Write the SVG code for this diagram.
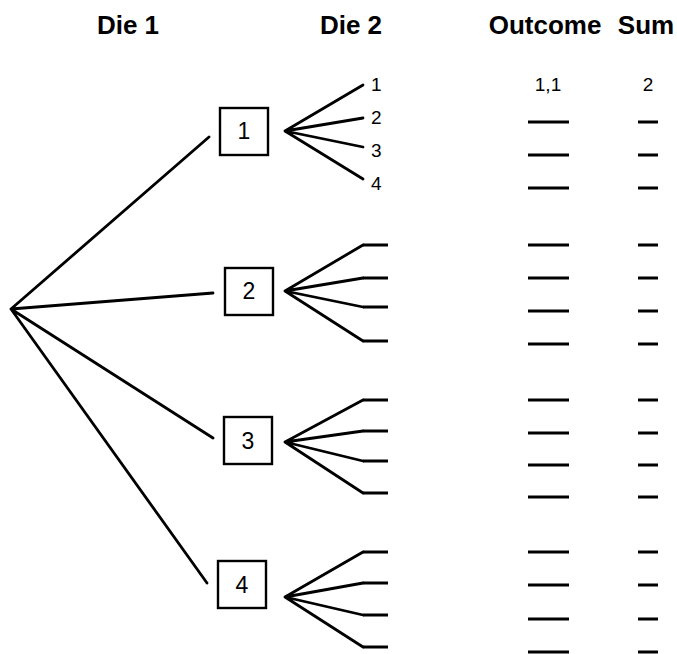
<svg xmlns="http://www.w3.org/2000/svg" width="677" height="654" viewBox="0 0 677 654">
<style>
.hdr{font-family:"Liberation Sans",Arial,sans-serif;font-weight:bold;font-size:26px;fill:#000}
.box{fill:#fff;stroke:#000;stroke-width:2.4}
.num{font-family:"Liberation Sans",Arial,sans-serif;font-size:23px;fill:#000;text-anchor:middle}
.lbl{font-family:"Liberation Sans",Arial,sans-serif;font-size:19px;fill:#000}
.ln{stroke:#000;stroke-width:2.8;fill:none;stroke-linecap:round}
.bl{stroke:#000;stroke-width:2.8;fill:none}
</style>
<rect width="677" height="654" fill="#fff"/>
<g id="headers">
<text class="hdr" x="128" y="34" text-anchor="middle">Die 1</text>
<text class="hdr" x="351" y="34" text-anchor="middle">Die 2</text>
<text class="hdr" x="545" y="34" text-anchor="middle">Outcome</text>
<text class="hdr" x="646" y="34" text-anchor="middle">Sum</text>
</g>
<g id="connectors">
<path class="ln" d="M11 309 L209 137 M11 309 L213 293 M11 309 L213 438 M11 309 L207 583"/>
<path class="ln" d="M285 131 L363 85 M285 131 L363 118 M285 131 L363 147 M285 131 L363 179"/>
<path class="ln" d="M285 291 L363 245 M285 291 L363 278 M285 291 L363 307 M285 291 L363 341"/>
<path class="ln" d="M285 442 L363 400 M285 442 L363 431 M285 442 L363 461 M285 442 L363 493"/>
<path class="ln" d="M285 597 L363 552 M285 597 L363 583 M285 597 L363 615 M285 597 L363 647"/>
</g>
<g id="die2-blanks">
<path class="bl" d="M363 245 H388 M363 278 H388 M363 307 H388 M363 341 H388"/>
<path class="bl" d="M363 400 H388 M363 431 H388 M363 461 H388 M363 493 H388"/>
<path class="bl" d="M363 552 H388 M363 583 H388 M363 615 H388 M363 647 H388"/>
</g>
<g id="node1"><rect class="box" x="220" y="108" width="48" height="47"/><text class="num" x="244" y="139">1</text></g>
<g id="node2"><rect class="box" x="225" y="268" width="48" height="47"/><text class="num" x="249" y="299">2</text></g>
<g id="node3"><rect class="box" x="224" y="417" width="48" height="47"/><text class="num" x="248" y="449">3</text></g>
<g id="node4"><rect class="box" x="218" y="561" width="48" height="47"/><text class="num" x="242" y="593">4</text></g>
<g id="die2-labels">
<text class="lbl" x="371" y="91">1</text>
<text class="lbl" x="371" y="124">2</text>
<text class="lbl" x="371" y="157">3</text>
<text class="lbl" x="371" y="190">4</text>
</g>
<g id="outcomes">
<text class="lbl" x="548" y="91" text-anchor="middle">1,1</text>
<path class="bl" d="M528 122 H569 M528 155 H569 M528 188 H569 M528 245 H569 M528 278 H569 M528 311 H569 M528 344 H569 M528 400 H569 M528 433 H569 M528 465 H569 M528 497 H569 M528 552 H569 M528 585 H569 M528 619 H569 M528 652 H569"/>
</g>
<g id="sums">
<text class="lbl" x="648" y="91" text-anchor="middle">2</text>
<path class="bl" d="M638 122 H658 M638 155 H658 M638 188 H658 M638 245 H658 M638 278 H658 M638 311 H658 M638 344 H658 M638 400 H658 M638 433 H658 M638 465 H658 M638 497 H658 M638 552 H658 M638 585 H658 M638 619 H658 M638 652 H658"/>
</g>
</svg>
